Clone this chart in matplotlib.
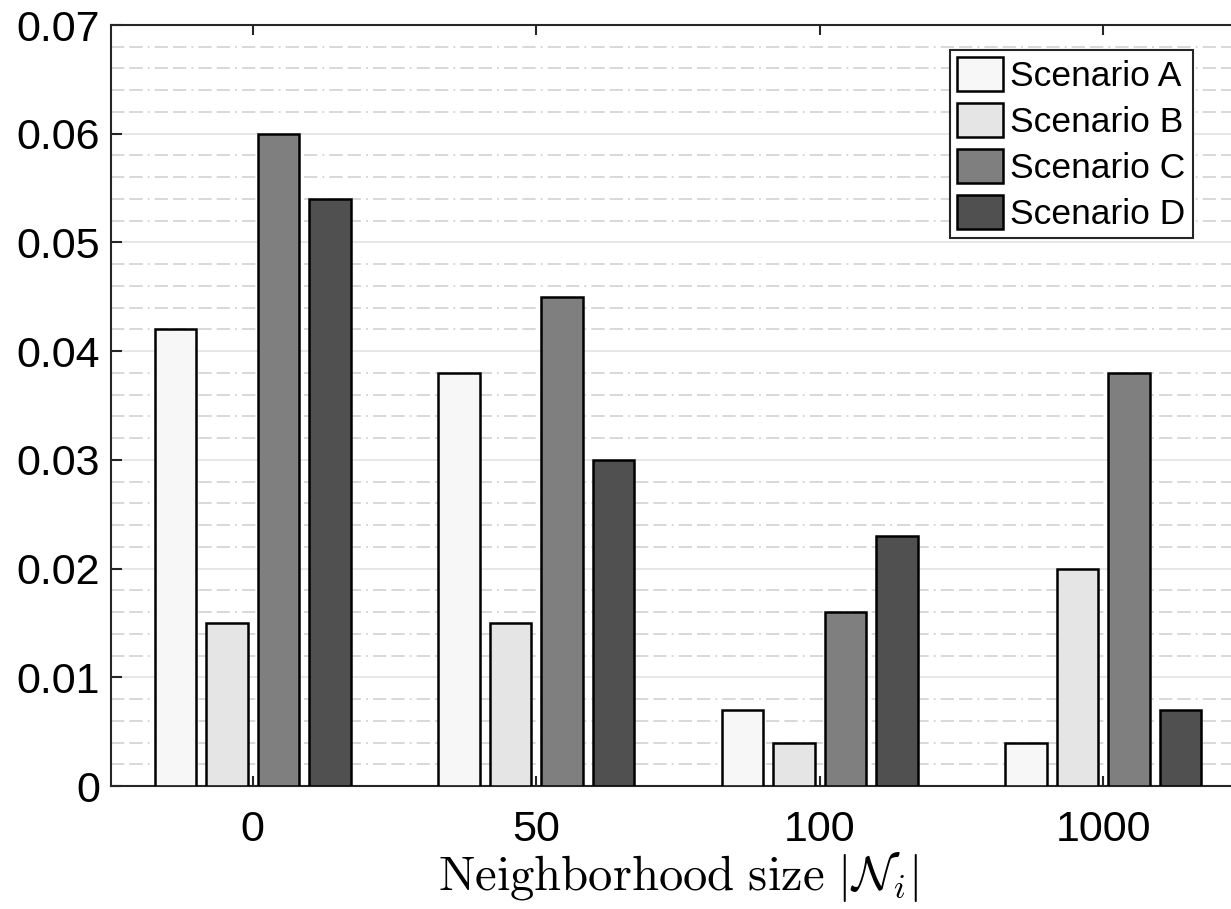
import numpy as np
import matplotlib
matplotlib.use('Agg')
import matplotlib.pyplot as plt

# data
groups = ['0', '50', '100', '1000']
scenarios = ['Scenario A', 'Scenario B', 'Scenario C', 'Scenario D']
scen_a = [0.042, 0.038, 0.007, 0.004]
scen_b = [0.015, 0.015, 0.004, 0.020]
scen_c = [0.060, 0.045, 0.016, 0.038]
scen_d = [0.054, 0.030, 0.023, 0.007]
colors = ['#f7f7f7', '#e5e5e5', '#7f7f7f', '#505050']
yticks = [0, 0.01, 0.02, 0.03, 0.04, 0.05, 0.06, 0.07]
ytick_labels = ['0', '0.01', '0.02', '0.03', '0.04', '0.05', '0.06', '0.07']

plt.rcParams['font.family'] = ['Liberation Sans', 'DejaVu Sans']
plt.rcParams['mathtext.fontset'] = 'cm'

fig = plt.figure(figsize=(12.31, 9.09), dpi=100)
ax = fig.add_axes([111 / 1231, 123 / 909, 1134 / 1231, 761 / 909])

x = np.arange(1, len(groups) + 1)
step = (4 / 5.5) / 4
width = step * 0.8
for i, vals in enumerate([scen_a, scen_b, scen_c, scen_d]):
    ax.bar(x + (i - 1.5) * step, vals, width, color=colors[i],
           edgecolor='black', linewidth=1.8, label=scenarios[i], zorder=3)

ax.set_xlim(0.5, 4.5)
ax.set_ylim(0, 0.07)
ax.set_xticks(x)
ax.set_xticklabels(groups)
ax.set_yticks(yticks)
ax.set_yticklabels(ytick_labels)
ax.set_yticks(np.arange(1, 35) * 0.002, minor=True)

# matlab style grid
ax.set_axisbelow(True)
ax.grid(axis='y', which='major', color='#e3e3e3', linewidth=1.2, linestyle='-')
ax.grid(axis='y', which='minor', color='#d2d2d2', linewidth=1.2,
        linestyle=(0, (8, 3, 8, 3, 1.2, 3)))
ax.grid(axis='x', visible=False)

ax.tick_params(axis='both', which='major', direction='in', labelsize=31,
               color='#262626', width=1.5)
ax.tick_params(axis='y', which='major', length=8, pad=8)
ax.tick_params(axis='y', which='minor', length=0)
ax.tick_params(axis='x', which='major', length=7, top=True, pad=17)
for sp in ax.spines.values():
    sp.set_color('#262626')
    sp.set_linewidth(1.5)

ax.set_xlabel(r'$\mathrm{Neighborhood\ size}\ |\mathcal{N}_i|$', fontsize=35, labelpad=0)

leg = ax.legend(loc='upper left', bbox_to_anchor=(950 / 1231, 1 - 50 / 909),
                bbox_transform=fig.transFigure, fontsize=25.5, fancybox=False,
                framealpha=1, edgecolor='#262626', handlelength=1.3,
                handleheight=1.1, handletextpad=0.2, labelspacing=0.28,
                borderpad=0.2, borderaxespad=0)
leg.get_frame().set_linewidth(1.5)

fig.savefig('out.png', dpi=100)
